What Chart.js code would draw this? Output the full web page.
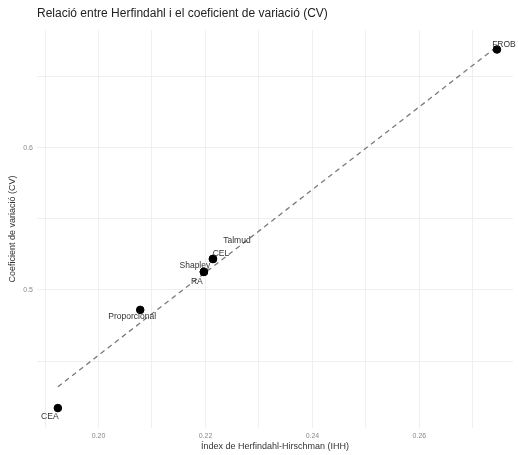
<!DOCTYPE html>
<html>
<head>
<meta charset="utf-8">
<script src="https://cdn.jsdelivr.net/npm/chart.js@4.4.0/dist/chart.umd.min.js"></script>
<style>
  html, body { margin: 0; padding: 0; background: #fff; }
  #wrap { width: 518px; height: 455px; }
</style>
</head>
<body>
<div id="wrap"><canvas id="chart" width="518" height="455"></canvas></div>
<script>
// Repartiments: índex de Herfindahl (IHH) i coeficient de variació (CV)
const methods = ["CEA", "Proporcional", "Shapley", "RA", "CEL", "Talmud", "FROB"];
const ihh = [0.1924, 0.2078, 0.2197, 0.2197, 0.2214, 0.2214, 0.2745];
const cv = [0.417, 0.486, 0.5127, 0.5127, 0.5218, 0.5218, 0.669];

// recta d'ajust (extrems)
const fitX = [0.1924, 0.2745];
const fitY = [0.432, 0.671];

const xGrid = [0.19, 0.20, 0.21, 0.22, 0.23, 0.24, 0.25, 0.26, 0.27];
const xLabels = ["", "0.20", "", "0.22", "", "0.24", "", "0.26", ""];
const yGrid = [0.45, 0.5, 0.55, 0.6, 0.65];
const yLabels = ["", "0.5", "", "0.6", ""];

// desplaçament de cada etiqueta respecte del seu punt (px)
const labelOffsets = {
  CEA: [-8, 9], Proporcional: [-8, 7], Shapley: [-9, -6], RA: [-7, 10],
  CEL: [8, -5], Talmud: [24, -18], FROB: [7, -5]
};

const FONT = "'Liberation Sans', Arial, sans-serif";

const pointLabels = {
  id: "pointLabels",
  afterDatasetsDraw(chart) {
    const ctx = chart.ctx;
    const meta = chart.getDatasetMeta(1);
    ctx.save();
    ctx.font = "8.5px " + FONT;
    ctx.fillStyle = "#333";
    ctx.textAlign = "center";
    ctx.textBaseline = "middle";
    meta.data.forEach((el, i) => {
      const off = labelOffsets[methods[i]];
      ctx.fillText(methods[i], el.x + off[0], el.y + off[1]);
    });
    ctx.restore();
  }
};

const titlePlugin = {
  id: "leftTitle",
  afterDraw(chart) {
    const ctx = chart.ctx;
    ctx.save();
    ctx.font = "12px " + FONT;
    ctx.fillStyle = "#222";
    ctx.textAlign = "left";
    ctx.textBaseline = "middle";
    ctx.fillText("Relació entre Herfindahl i el coeficient de variació (CV)", chart.chartArea.left, 14);
    ctx.restore();
  }
};

new Chart(document.getElementById("chart"), {
  type: "scatter",
  data: {
    datasets: [
      {
        type: "line",
        data: fitX.map((x, i) => ({ x: x, y: fitY[i] })),
        borderColor: "#7a7a7a",
        borderWidth: 1.3,
        borderDash: [5, 4],
        pointRadius: 0,
        fill: false,
        order: 2
      },
      {
        data: ihh.map((x, i) => ({ x: x, y: cv[i] })),
        backgroundColor: "#000",
        borderColor: "#000",
        pointRadius: 3.8,
        order: 1
      }
    ]
  },
  options: {
    responsive: false,
    animation: false,
    layout: { padding: { top: 30, right: 3, left: 0, bottom: 0 } },
    plugins: {
      legend: { display: false },
      tooltip: { enabled: false }
    },
    scales: {
      x: {
        type: "linear",
        min: 0.1885,
        max: 0.2775,
        afterBuildTicks: (s) => { s.ticks = xGrid.map((v) => ({ value: v })); },
        afterFit: (s) => { s.height = 27; },
        border: { display: false },
        grid: { color: "#efefef", lineWidth: 1, drawTicks: false },
        ticks: {
          padding: 4,
          color: "#888",
          font: { family: FONT, size: 7 },
          callback: (v, i) => xLabels[i]
        },
        title: {
          display: true,
          text: "Índex de Herfindahl-Hirschman (IHH)",
          color: "#333",
          font: { family: FONT, size: 9 },
          padding: { top: 0, bottom: 3 }
        }
      },
      y: {
        type: "linear",
        min: 0.403,
        max: 0.6827,
        afterBuildTicks: (s) => { s.ticks = yGrid.map((v) => ({ value: v })); },
        afterFit: (s) => { s.width = 37; },
        border: { display: false },
        grid: { color: "#efefef", lineWidth: 1, drawTicks: false },
        ticks: {
          padding: 4,
          color: "#888",
          font: { family: FONT, size: 7 },
          callback: (v, i) => yLabels[i]
        },
        title: {
          display: true,
          text: "Coeficient de variació (CV)",
          color: "#333",
          font: { family: FONT, size: 9 },
          padding: { top: 7, bottom: 0 }
        }
      }
    }
  },
  plugins: [pointLabels, titlePlugin]
});
</script>
</body>
</html>
